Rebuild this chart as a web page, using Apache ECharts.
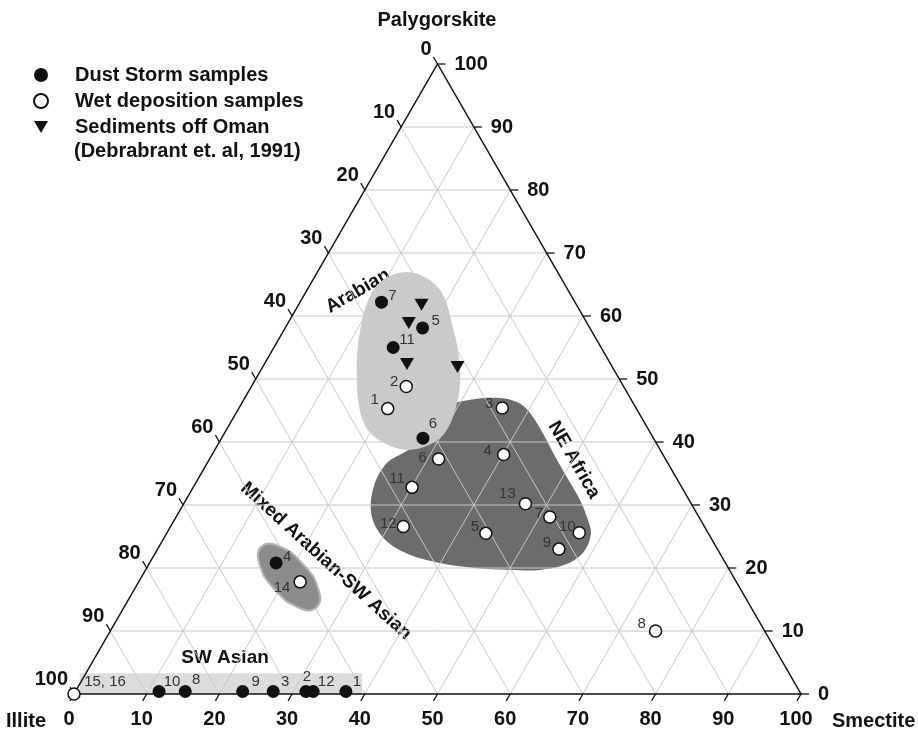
<!DOCTYPE html>
<html>
<head>
<meta charset="utf-8">
<script src="https://cdn.jsdelivr.net/npm/echarts@6/dist/echarts.min.js"></script>
<style>
  html, body { margin: 0; padding: 0; background: #fff; }
  #chart { width: 918px; height: 731px; }
</style>
</head>
<body>
<div id="chart"></div>
<script>
// samples as [smectite %, palygorskite %, label]; illite is the rest
const dustStorm = [
  [11.2, 62.2, '7'], [18.9, 58.1, '5'], [16.4, 55.0, '11'], [27.7, 40.6, '6'],
  [17.4, 20.8, '4'],
  [11.5, 0.4, '10'], [15.1, 0.4, '8'], [23.0, 0.4, '9'], [27.2, 0.4, '3'],
  [31.7, 0.4, '2'], [32.7, 0.4, '12'], [37.2, 0.4, '1']
]
const wetDeposition = [
  [21.3, 48.8, '2'], [20.5, 45.3, '1'], [36.2, 45.4, '3'], [31.5, 37.3, '6'],
  [40.1, 38.0, '4'], [30.1, 32.8, '11'], [47.0, 30.2, '13'], [51.4, 28.1, '7'],
  [56.7, 25.6, '10'], [32.0, 26.6, '12'], [43.9, 25.5, '5'], [55.2, 23.0, '9'],
  [22.2, 17.8, '14'], [75.0, 10.0, '8'], [0, 0, '15, 16']
]
const omanSediments = [
  [16.9, 61.8], [16.6, 58.9], [19.6, 52.4], [26.8, 51.9]
]
const tickValues = [0, 10, 20, 30, 40, 50, 60, 70, 80, 90, 100]

// group outlines in plane units [x, y] (x = smectite + palygorskite/2, y = palygorskite)
const arabianOutline = [
  [46.6, 66.9], [50.3, 64.2], [52.1, 58.3], [53.1, 51.9], [52.8, 46.7], [51.3, 41.9],
  [49.4, 39.9], [46.6, 38.8], [43.9, 39.2], [40.7, 41.5], [39.3, 45.1], [38.9, 51.5],
  [39.3, 57.3], [40.7, 63.1], [43.0, 66.1]
]
const neAfricaOutline = [
  [50.3, 45.1], [54.5, 46.7], [58.6, 47.0], [61.0, 46.3], [62.6, 44.8], [64.5, 41.4],
  [65.9, 38.3], [67.8, 34.4], [69.6, 30.8], [70.7, 27.6], [71.1, 25.3], [70.0, 22.4],
  [67.5, 20.5], [64.1, 19.7], [60.0, 19.7], [55.2, 20.0], [50.3, 20.8], [46.2, 22.1],
  [42.8, 24.5], [41.0, 28.0], [41.1, 32.4], [42.8, 36.4], [45.5, 38.4], [48.3, 40.3]
]
const mixedOutline = [
  [33.34, 13.73], [30.87, 13.73], [27.63, 16.56], [25.53, 20.56],
  [25.80, 23.41], [28.28, 23.41], [31.51, 20.59], [33.62, 16.59]
]
const swAsianOutline = [[0.8, 3.3], [39.6, 3.3], [39.6, 0], [0.8, 0]]

const font = "'Liberation Sans', Arial, sans-serif"

function toPlane(s, p) {
  return [s + p / 2, p]
}

// 10 % grid lines of the triangle
const gridSegs = []
for (let k = 10; k < 100; k += 10) {
  gridSegs.push([...toPlane(0, k), ...toPlane(100 - k, k)])
  gridSegs.push([...toPlane(k, 0), ...toPlane(k, 100 - k)])
  gridSegs.push([...toPlane(100 - k, 0), ...toPlane(0, 100 - k)])
}

const ticks = []
tickValues.forEach(v => {
  ticks.push([...toPlane(v, 0), 0, v])        // smectite, bottom edge
  ticks.push([...toPlane(0, 100 - v), 1, v])  // illite, left edge
  ticks.push([...toPlane(100 - v, v), 2, v])  // palygorskite, right edge
})
const tickDirs = [[-0.5, 0.866], [-0.5, -0.866], [1, 0]]
const tickLabelPos = [[-5, 25, 'center'], [-6, -15, 'right'], [17, 0, 'left']]

const dustLabelOffsets = [[11, -6], [13, -7], [14, -8], [10, -14], [11, -6],
  [13, -10], [11, -12], [13, -10], [12, -10], [1, -15], [13, -10], [11, -10]]
const wetLabelOffsets = [[-12, -5], [-13, -9], [-13, -4], [-16, -1], [-16, -4], [-15, -9],
  [-18, -10], [-11, -3], [-12, -6], [-15, -3], [-11, -6], [-12, -6], [-18, 6], [-14, -7], [31, -12]]

function regionSeries(outline, style, smooth, z) {
  return {
    type: 'custom',
    coordinateSystem: 'cartesian2d',
    silent: true,
    clip: false,
    z: z,
    data: [[0, 0]],
    renderItem: function (params, api) {
      return {
        type: 'polygon',
        shape: { points: outline.map(p => api.coord(p)), smooth: smooth },
        style: style
      }
    }
  }
}

function label(text, x, y, size, rotation, align) {
  return {
    type: 'text', x: x, y: y, rotation: rotation || 0,
    style: {
      text: text, font: 'bold ' + size + 'px ' + font, fill: '#111',
      align: align || 'center', textAlign: align || 'center',
      verticalAlign: 'middle', textVerticalAlign: 'middle'
    }
  }
}

const chart = echarts.init(document.getElementById('chart'))
chart.setOption({
  animation: false,
  backgroundColor: '#fff',
  grid: { left: 74, top: 64, width: 727, height: 630 },
  xAxis: { type: 'value', min: 0, max: 100, show: false },
  yAxis: { type: 'value', min: 0, max: 100, show: false },
  legend: {
    orient: 'vertical',
    left: 28,
    top: 60,
    itemWidth: 14,
    itemHeight: 14,
    itemGap: 6,
    selectedMode: false,
    textStyle: { fontSize: 20, fontWeight: 'bold', color: '#111', fontFamily: font, padding: [0, 0, 0, 22] },
    data: ['Dust Storm samples', 'Wet deposition samples', 'Sediments off Oman']
  },
  graphic: [
    label('(Debrabrant et. al, 1991)', 74, 151, 20, 0, 'left'),
    label('Palygorskite', 437, 20, 20),
    label('Illite', 6, 721, 20, 0, 'left'),
    label('Smectite', 832, 721, 20, 0, 'left'),
    label('Arabian', 358, 291, 19, Math.PI / 6),
    label('NE Africa', 574, 460, 19, -Math.PI / 3),
    label('Mixed Arabian-SW Asian', 326, 561, 19, -0.74),
    label('SW Asian', 225, 658, 19)
  ],
  series: [
    regionSeries(swAsianOutline, { fill: '#dcdcdc' }, 0, 1),
    regionSeries(neAfricaOutline, { fill: '#6c6c6c' }, 0.35, 1),
    {
      type: 'custom',
      coordinateSystem: 'cartesian2d',
      silent: true,
      clip: false,
      z: 2,
      data: gridSegs,
      renderItem: function (params, api) {
        const a = api.coord([api.value(0), api.value(1)])
        const b = api.coord([api.value(2), api.value(3)])
        return {
          type: 'line',
          shape: { x1: a[0], y1: a[1], x2: b[0], y2: b[1] },
          style: { stroke: '#c8c8c8', lineWidth: 1 }
        }
      }
    },
    regionSeries(arabianOutline, { fill: '#cacaca' }, 0.35, 3),
    regionSeries(mixedOutline, { fill: '#8c8c8c', stroke: '#b4b4b4', lineWidth: 2 }, 0.5, 3),
    {
      type: 'custom',
      coordinateSystem: 'cartesian2d',
      silent: true,
      clip: false,
      z: 4,
      data: [[0, 0]],
      renderItem: function (params, api) {
        const pts = [toPlane(0, 0), toPlane(100, 0), toPlane(0, 100)].map(p => api.coord(p))
        return {
          type: 'polygon',
          shape: { points: pts },
          style: { fill: 'none', stroke: '#111', lineWidth: 1.5 }
        }
      }
    },
    {
      type: 'custom',
      coordinateSystem: 'cartesian2d',
      silent: true,
      clip: false,
      z: 4,
      data: ticks,
      renderItem: function (params, api) {
        const p = api.coord([api.value(0), api.value(1)])
        const side = api.value(2)
        const d = tickDirs[side]
        const lp = tickLabelPos[side]
        return {
          type: 'group',
          children: [
            {
              type: 'line',
              shape: { x1: p[0], y1: p[1], x2: p[0] + d[0] * 8, y2: p[1] + d[1] * 8 },
              style: { stroke: '#111', lineWidth: 1.3 }
            },
            {
              type: 'text',
              x: p[0] + lp[0],
              y: p[1] + lp[1],
              style: {
                text: String(api.value(3)),
                font: 'bold 20px ' + font,
                fill: '#111',
                align: lp[2],
                verticalAlign: 'middle'
              }
            }
          ]
        }
      }
    },
    {
      name: 'Dust Storm samples',
      type: 'scatter',
      z: 10,
      symbol: 'circle',
      symbolSize: 13,
      itemStyle: { color: '#111', opacity: 1 },
      label: { show: true, position: 'inside', formatter: '{b}', color: '#333', fontSize: 15, fontFamily: font },
      data: dustStorm.map((d, i) => ({ name: d[2], value: toPlane(d[0], d[1]), label: { offset: dustLabelOffsets[i] } }))
    },
    {
      name: 'Wet deposition samples',
      type: 'scatter',
      z: 10,
      symbol: 'circle',
      symbolSize: 12,
      itemStyle: { color: '#fff', borderColor: '#111', borderWidth: 1.5, opacity: 1 },
      label: { show: true, position: 'inside', formatter: '{b}', color: '#333', fontSize: 15, fontFamily: font },
      data: wetDeposition.map((d, i) => ({ name: d[2], value: toPlane(d[0], d[1]), label: { offset: wetLabelOffsets[i] } }))
    },
    {
      name: 'Sediments off Oman',
      type: 'scatter',
      z: 10,
      symbol: 'path://M0,0L20,0L10,17Z',
      symbolSize: [14, 12],
      itemStyle: { color: '#111', opacity: 1 },
      data: omanSediments.map(d => toPlane(d[0], d[1]))
    }
  ]
})
</script>
</body>
</html>
